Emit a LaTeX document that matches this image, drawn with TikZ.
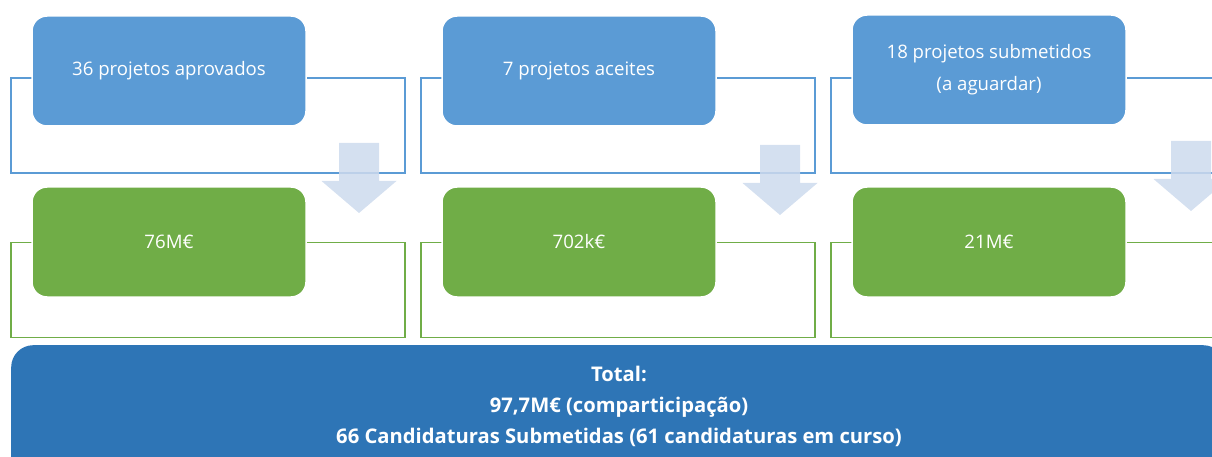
\documentclass[tikz,border=0pt]{standalone}
\usepackage{fontspec}
\setmainfont{Open Sans}
\usetikzlibrary{positioning}
\definecolor{boxblue}{RGB}{91,155,213}
\definecolor{boxgreen}{RGB}{112,173,71}
\definecolor{arrowblue}{RGB}{205,218,237}
\definecolor{totalblue}{RGB}{46,117,182}

\begin{document}
\begin{tikzpicture}[x=1pt, y=-1pt, node distance={171pt},
    frame/.style = {draw, line width=1.2pt, minimum width=394pt, minimum height=95pt, inner sep=0pt},
    main/.style = {draw=white, line width=1.5pt, rounded corners=15pt, minimum width=274pt, minimum height=110pt, inner sep=0pt, text=white, align=center, font=\fontsize{18.6}{32}\selectfont},
    down/.style = {fill=arrowblue, fill opacity=.85},
    total/.style = {fill=totalblue, rounded corners=22pt, anchor=north west, minimum width=1214pt, minimum height=140pt, inner sep=0pt}]
    \useasboundingbox (0,0) rectangle (1212,457);
    \clip (0,0) rectangle (1212,457);

    % frames behind the boxes
    \node[frame, draw=boxblue] (fb1) at (208,125.5) {};
    \node[frame, draw=boxblue] (fb2) at (618,125.5) {};
    \node[frame, draw=boxblue] (fb3) at (1028,125.5) {};
    \node[frame, draw=boxgreen] (fg1) at (208,290) {};
    \node[frame, draw=boxgreen] (fg2) at (618,290) {};
    \node[frame, draw=boxgreen] (fg3) at (1028,290) {};

    \node[main, fill=boxblue] (b1) at (169,71) {36 projetos aprovados};
    \node[main, fill=boxblue] (b2) at (579,71) {7 projetos aceites};
    \node[main, fill=boxblue] (b3) at (989,70) {18 projetos submetidos\\(a aguardar)};
    \node[main, fill=boxgreen] (g1) [below of=b1] {76M€};
    \node[main, fill=boxgreen] (g2) [below of=b2] {702k€};
    \node[main, fill=boxgreen] (g3) [below of=b3, yshift=-1pt] {21M€};

    % block arrows
    \coordinate (a1) at (359,143);
    \coordinate (a2) at (780,145);
    \coordinate (a3) at (1191,141);
    \foreach \a in {a1,a2,a3}
        \fill[down] (\a) +(-20,0) -- +(20,0) -- +(20,38) -- +(37.5,38) -- +(0,70)
            -- +(-37.5,38) -- +(-20,38) -- cycle;

    \node[total] (t) at (11,345) {};
    \node[text=white, align=center, font=\fontsize{20.2}{31}\selectfont\bfseries] (tt) at (619,406)
        {Total:\\97,7M€ (comparticipação)\\66 Candidaturas Submetidas (61 candidaturas em curso)};
\end{tikzpicture}
\end{document}
